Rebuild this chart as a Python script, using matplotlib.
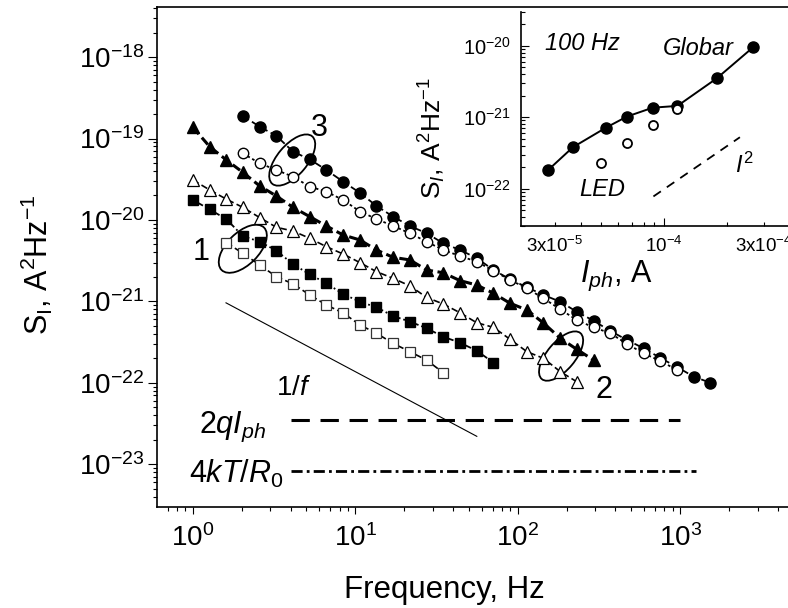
import numpy as np
import matplotlib
matplotlib.use('Agg')
import matplotlib.pyplot as plt
import matplotlib.transforms as mtransforms
from matplotlib.patches import Ellipse
from matplotlib.ticker import LogLocator, FixedLocator, NullFormatter, FuncFormatter

plt.rcParams['font.family'] = 'Liberation Sans'
plt.rcParams['mathtext.fontset'] = 'custom'
plt.rcParams['mathtext.rm'] = 'Liberation Sans'
plt.rcParams['mathtext.it'] = 'Liberation Sans:italic'
plt.rcParams['mathtext.bf'] = 'Liberation Sans:bold'

# analyser frequency grid, Hz
freq = [1.00, 1.27, 1.61, 2.03, 2.58, 3.27, 4.14, 5.24, 6.64, 8.42,
        10.7, 13.5, 17.1, 21.7, 27.5, 34.8, 44.1, 55.9, 70.9, 89.8,
        114, 144, 183, 231, 293, 372, 471, 597, 756, 958, 1213, 1538]

# noise spectra S_I, A^2/Hz (first index into freq, values)
circ_full_start = 3
circ_full = [1.9e-19, 1.4e-19, 1.08e-19, 6.9e-20, 5.57e-20, 4.11e-20, 2.96e-20,
             2.15e-20, 1.49e-20, 1.1e-20, 8.44e-21, 6.87e-21, 5.18e-21, 4.28e-21,
             3.41e-21, 2.43e-21, 1.87e-21, 1.49e-21, 1.2e-21, 9.9e-22, 7.46e-22,
             5.79e-22, 4.33e-22, 3.36e-22, 2.65e-22, 2.02e-22, 1.56e-22, 1.19e-22,
             1.0e-22]
circ_open_start = 3
circ_open = [6.59e-20, 4.97e-20, 4.11e-20, 3.4e-20, 2.57e-20, 2.23e-20, 1.76e-20,
             1.27e-20, 1.03e-20, 8.44e-21, 6.87e-21, 5.41e-21, 4.28e-21, 3.61e-21,
             3.08e-21, 2.38e-21, 1.83e-21, 1.45e-21, 1.09e-21, 8.0e-22, 5.9e-22,
             4.8e-22, 4.06e-22, 3.0e-22, 2.3e-22, 1.85e-22, 1.44e-22]
tri_full_start = 0
tri_full = [1.38e-19, 7.95e-20, 5.45e-20, 3.85e-20, 2.62e-20, 1.97e-20, 1.43e-20,
            1.1e-20, 8.44e-21, 6.54e-21, 5.68e-21, 4.28e-21, 3.48e-21, 3.23e-21,
            2.43e-21, 2.25e-21, 1.8e-21, 1.59e-21, 1.26e-21, 9.48e-22, 7.84e-22,
            5.43e-22, 3.52e-22, 2.58e-22, 1.9e-22]
tri_open_start = 0
tri_open = [3.1e-20, 2.34e-20, 1.8e-20, 1.43e-20, 1.07e-20, 8.13e-21, 7.32e-21,
            5.96e-21, 4.7e-21, 3.82e-21, 2.99e-21, 2.32e-21, 1.92e-21, 1.55e-21,
            1.12e-21, 9.29e-22, 7.26e-22, 5.47e-22, 4.8e-22, 3.42e-22, 2.41e-22,
            2.0e-22, 1.37e-22, 1.03e-22]
sq_full_start = 0
sq_full = [1.76e-20, 1.35e-20, 1.02e-20, 6.36e-21, 5.41e-21, 4.2e-21, 2.86e-21,
           2.15e-21, 1.67e-21, 1.23e-21, 9.9e-22, 8.47e-22, 6.62e-22, 5.64e-22,
           4.68e-22, 3.68e-22, 3.11e-22, 2.48e-22, 1.77e-22]
sq_open_start = 2
sq_open = [5.26e-21, 3.9e-21, 2.8e-21, 2.01e-21, 1.64e-21, 1.2e-21, 9.04e-22,
           7.2e-22, 5.13e-22, 4.06e-22, 3.05e-22, 2.41e-22, 1.9e-22, 1.33e-22]

# reference levels
flicker_f = [1.6, 56.0]
flicker_s = [9.6e-22, 2.2e-23]
shot_f = [4.0, 1000.0]
shot_s = 3.5e-23
thermal_f = [4.0, 1250.0]
thermal_s = 8.3e-24

# inset: S_I at 100 Hz vs photocurrent
I_globar = [2.79e-5, 3.66e-5, 5.28e-5, 6.64e-5, 8.83e-5, 1.16e-4, 1.79e-4, 2.67e-4]
S_globar = [1.83e-22, 3.8e-22, 7.16e-22, 1.02e-21, 1.36e-21, 1.44e-21, 3.5e-21, 9.5e-21]
I_led = [4.98e-5, 6.64e-5, 8.83e-5, 1.16e-4]
S_led = [2.28e-22, 4.41e-22, 7.8e-22, 1.29e-21]
I_sq = [8.9e-5, 2.31e-4]
S_sq = [7.8e-23, 5.25e-22]

fig = plt.figure(figsize=(7.88, 6.08), dpi=100)
ax = fig.add_axes([0.1996, 0.1669, 0.8156, 0.8211])
ax.set_xscale('log')
ax.set_yscale('log')
ax.set_xlim(10 ** -0.219, 10 ** 3.738)
ax.set_ylim(10 ** -23.52, 10 ** -17.387)


def series(start, vals, **kw):
    ax.plot(freq[start:start + len(vals)], vals, color='black', **kw)


series(circ_full_start, circ_full, marker='o', ms=8, ls=(0, (4, 2)), lw=1.3)
series(circ_open_start, circ_open, marker='o', ms=7.5, mfc='white', mec='black',
       mew=1.0, ls=(0, (1.5, 1.5)), lw=1.3)
series(tri_full_start, tri_full, marker='^', ms=8, ls=(0, (3, 1.5)), lw=2.2)
series(tri_open_start, tri_open, marker='^', ms=8, mfc='white', mec='black',
       mew=0.9, ls=(0, (4, 2)), lw=1.2)
series(sq_full_start, sq_full, marker='s', ms=6.5, ls='-.', lw=1.3)
series(sq_open_start, sq_open, marker='s', ms=6.5, mfc='white', mec='#333333',
       mew=0.9, ls=(0, (4, 2)), lw=1.2)

ax.plot(flicker_f, flicker_s, color='black', lw=0.8)
ax.plot(shot_f, [shot_s, shot_s], color='black', lw=2.2, ls=(0, (6, 3.5)))
ax.plot(thermal_f, [thermal_s, thermal_s], color='black', lw=2.0,
        ls=(0, (4, 1.5, 1, 1.5)))


def ring(f, s, w, h, ang):
    tr = fig.dpi_scale_trans + mtransforms.ScaledTranslation(f, s, ax.transData)
    ax.add_patch(Ellipse((0, 0), w / 100, h / 100, angle=ang, fill=False,
                         lw=1.3, color='black', transform=tr))


ring(4.09, 5.45e-20, 62, 30, 50)
ring(2.03, 4.43e-21, 60, 32, 45)
ring(185, 2.13e-22, 60, 28, 50)

ax.text(6.02, 1.35e-19, '3', fontsize=22, ha='center', va='center')
ax.text(1.13, 4.0e-21, '1', fontsize=22, ha='center', va='center')
ax.text(340, 8.2e-23, '2', fontsize=22, ha='center', va='center')
ax.text(3.23, 7.0e-23, r'1/$f$', fontsize=20, ha='left', va='baseline')
ax.text(2.82, 2.4e-23, r'2$qI_{ph}$', fontsize=22, ha='right', va='baseline')
ax.text(3.59, 5.9e-24, r'4$kT/R_0$', fontsize=22, ha='right', va='baseline')

ax.xaxis.set_major_locator(FixedLocator([1, 10, 100, 1000]))
ax.yaxis.set_major_locator(FixedLocator([1e-23, 1e-22, 1e-21, 1e-20, 1e-19, 1e-18]))
ax.xaxis.set_minor_locator(LogLocator(base=10, subs=np.arange(2, 10), numticks=30))
ax.yaxis.set_minor_locator(LogLocator(base=10, subs=np.arange(2, 10), numticks=30))
ax.xaxis.set_minor_formatter(NullFormatter())
ax.yaxis.set_minor_formatter(NullFormatter())
ax.tick_params(axis='both', which='both', direction='out', width=0.8, labelsize=20)
ax.tick_params(axis='y', which='major', length=6.5, pad=3)
ax.tick_params(axis='y', which='minor', length=3)
ax.tick_params(axis='x', which='major', length=5, pad=8)
ax.tick_params(axis='x', which='minor', length=3)
for sp in ax.spines.values():
    sp.set_linewidth(1.2)

fig.text(444 / 788, 1 - 598 / 608, 'Frequency, Hz', fontsize=22.5,
         ha='center', va='baseline')
fig.text(37 / 788, 1 - 265 / 608, r'S$_\mathregular{I}$, A$^{2}$Hz$^{-1}$',
         fontsize=22, rotation=90, ha='center', va='center')

# inset
axi = fig.add_axes([0.6608, 0.6281, 0.3544, 0.3528])
axi.set_xscale('log')
axi.set_yscale('log')
axi.set_xlim(2.06e-5, 4.48e-4)
axi.set_ylim(3e-23, 3e-20)
axi.spines['top'].set_visible(False)
axi.spines['right'].set_visible(False)
for sp in ('left', 'bottom'):
    axi.spines[sp].set_linewidth(1.2)

axi.plot(I_globar, S_globar, color='black', marker='o', ms=8, lw=1.4)
axi.plot(I_led, S_led, ls='none', marker='o', ms=6.5, mfc='white',
         mec='black', mew=1.3)
axi.plot(I_sq, S_sq, color='black', lw=1.3, ls=(0, (5, 4)))

axi.text(2.7e-5, 8.7e-21, '100 Hz', fontsize=17, style='italic', va='baseline')
axi.text(9.9e-5, 7.4e-21, 'Globar', fontsize=17, style='italic', va='baseline')
axi.text(3.94e-5, 7.8e-23, 'LED', fontsize=17, style='italic', va='baseline')
axi.text(2.19e-4, 1.65e-22, r'$I^\mathrm{2}$', fontsize=17, va='baseline')


def inset_minor(v, pos):
    e = int(np.floor(np.log10(v) + 1e-9))
    if abs(v / 10 ** e - 3) < 0.01:
        return r'$\mathdefault{3x10^{%d}}$' % e
    return ''


axi.xaxis.set_major_locator(FixedLocator([1e-4]))
axi.yaxis.set_major_locator(FixedLocator([1e-22, 1e-21, 1e-20]))
axi.xaxis.set_minor_locator(FixedLocator(
    [m * 1e-5 for m in range(3, 10)] + [2e-4, 3e-4, 4e-4]))
axi.yaxis.set_minor_locator(LogLocator(base=10, subs=np.arange(2, 10), numticks=30))
axi.xaxis.set_minor_formatter(FuncFormatter(inset_minor))
axi.yaxis.set_minor_formatter(NullFormatter())
axi.tick_params(axis='both', which='both', direction='in', width=0.8,
                labelsize=14.5, pad=7)
axi.tick_params(axis='x', which='both', labelsize=13.5)
axi.tick_params(which='major', length=6)
axi.tick_params(which='minor', length=3)

fig.text(432 / 788, 1 - 138 / 608, r'S$_{I}$, A$^{2}$Hz$^{-1}$',
         fontsize=19, rotation=90, ha='center', va='center')
fig.text(616 / 788, 1 - 282 / 608, r'$I_{ph}$, A', fontsize=22,
         ha='center', va='baseline')

fig.savefig('out.png', dpi=100)
